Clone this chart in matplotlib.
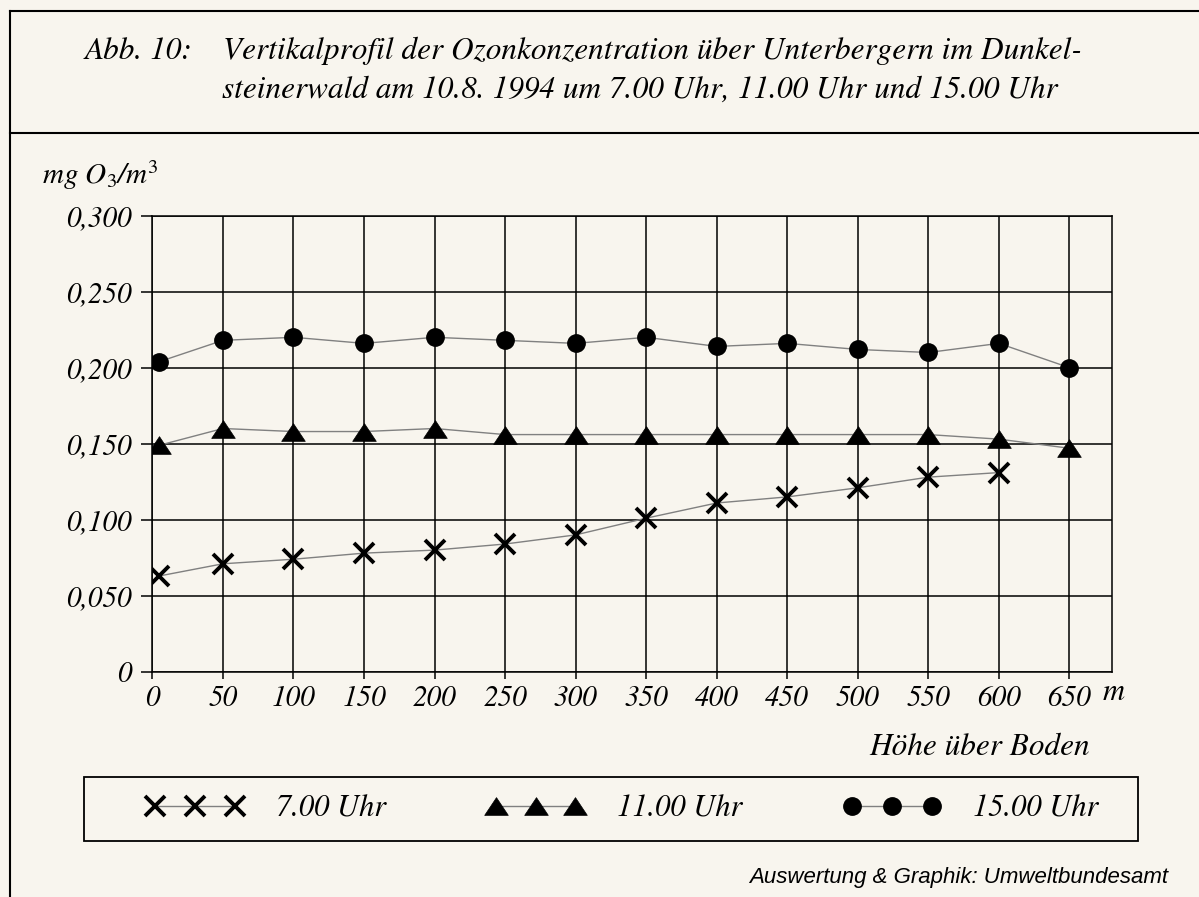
import matplotlib
matplotlib.use("Agg")
import matplotlib.pyplot as plt
from matplotlib.lines import Line2D
from matplotlib.patches import Rectangle

# ---- data ----
heights = [5, 50, 100, 150, 200, 250, 300, 350, 400, 450, 500, 550, 600, 650]
uhr7 = [0.063, 0.071, 0.074, 0.078, 0.080, 0.084, 0.090, 0.101, 0.111, 0.115, 0.121, 0.128, 0.131]
uhr11 = [0.149, 0.160, 0.158, 0.158, 0.160, 0.156, 0.156, 0.156, 0.156, 0.156, 0.156, 0.156, 0.153, 0.147]
uhr15 = [0.204, 0.218, 0.220, 0.216, 0.220, 0.218, 0.216, 0.220, 0.214, 0.216, 0.212, 0.210, 0.216, 0.200]
xticks = [0, 50, 100, 150, 200, 250, 300, 350, 400, 450, 500, 550, 600, 650]
yticks = [0, 0.05, 0.10, 0.15, 0.20, 0.25, 0.30]
ytick_labels = ["0", "0,050", "0,100", "0,150", "0,200", "0,250", "0,300"]
series_labels = ["7.00 Uhr", "11.00 Uhr", "15.00 Uhr"]

plt.rcParams["mathtext.fontset"] = "stix"

PAPER = "#f8f5ee"
SERIF = ["STIXGeneral", "DejaVu Serif"]
SANS = ["Liberation Sans", "DejaVu Sans"]

W, H = 1199, 897
fig = plt.figure(figsize=(W / 100, H / 100), dpi=100, facecolor=PAPER)

def fx(px):
    return px / W

def fy(py):
    return 1 - py / H

ax = fig.add_axes([fx(152.4), fy(671.7), fx(1111.8) - fx(152.4), fy(215.7) - fy(671.7)])
ax.set_facecolor(PAPER)

tri = [(-1, -0.75), (1, -0.75), (0, 0.75), (-1, -0.75)]
line_kw = dict(color="#808080", lw=1.0)
l1, = ax.plot(heights[:len(uhr7)], uhr7, marker="x", ms=14, mew=2.8, mec="black", **line_kw)
l2, = ax.plot(heights, uhr11, marker=tri, ms=17, mfc="black", mec="black", mew=0.5, **line_kw)
l3, = ax.plot(heights, uhr15, marker="o", ms=12.5, mfc="black", mec="black", **line_kw)

ax.set_xlim(0, 680)
ax.set_ylim(0, 0.30)
ax.set_xticks(xticks)
ax.set_yticks(yticks)
ax.set_yticklabels(ytick_labels)
ax.grid(True, color="black", lw=1.1)
ax.set_axisbelow(True)
for s in ax.spines.values():
    s.set_color("black")
    s.set_linewidth(1.1)
ax.tick_params(axis="y", direction="out", length=8, width=1.1, pad=7, labelsize=21)
ax.tick_params(axis="x", direction="out", length=5, width=1.1, pad=5, labelsize=21)
for lab in ax.get_xticklabels() + ax.get_yticklabels():
    lab.set_fontfamily(SERIF)
    lab.set_fontstyle("italic")

# axis texts
fig.text(fx(42), fy(175), "mg O$_\\mathit{3}$/m$^\\mathit{3}$", fontsize=21, fontfamily=SERIF,
         fontstyle="italic", ha="left", va="center")
fig.text(fx(1103), fy(692), "m", fontsize=22, fontfamily=SERIF, fontstyle="italic",
         ha="left", va="center")
fig.text(fx(1090), fy(747), "Höhe über Boden", fontsize=22.5, fontfamily=SERIF, fontstyle="italic",
         ha="right", va="center")

# title
TS = 22.5
fig.text(fx(85), fy(51), "Abb. 10:", fontsize=TS, fontfamily=SERIF, fontstyle="italic",
         ha="left", va="center")
fig.text(fx(223), fy(51), "Vertikalprofil der Ozonkonzentration über Unterbergern im Dunkel-",
         fontsize=TS, fontfamily=SERIF, fontstyle="italic", ha="left", va="center")
fig.text(fx(222), fy(90), "steinerwald am 10.8. 1994 um 7.00 Uhr, 11.00 Uhr und 15.00 Uhr",
         fontsize=TS, fontfamily=SERIF, fontstyle="italic", ha="left", va="center")

# frame lines
fig.add_artist(Line2D([fx(10), 1], [fy(11), fy(11)], color="black", lw=1.5))
fig.add_artist(Line2D([fx(10), 1], [fy(133), fy(133)], color="black", lw=1.5))
fig.add_artist(Line2D([fx(10), fx(10)], [fy(11), 0], color="black", lw=1.5))

# legend box
fig.add_artist(Rectangle((fx(84), fy(841)), fx(1138) - fx(84), fy(777) - fy(841),
                         transform=fig.transFigure, fill=False, edgecolor="black", lw=1.3))
leg = fig.legend([l1, l2, l3], series_labels, loc="center left", ncol=3,
                 bbox_to_anchor=(fx(146), fy(809)),
                 numpoints=3, handlelength=3.2, handletextpad=1.05, columnspacing=3.3,
                 frameon=False, markerscale=1.0,
                 prop=dict(family=SERIF, style="italic", size=22), borderaxespad=0, borderpad=0)

fig.text(fx(1168), fy(877), "Auswertung & Graphik: Umweltbundesamt", fontsize=16,
         fontfamily=SANS, fontstyle="italic", ha="right", va="center")

fig.savefig("out.png", dpi=100, facecolor=PAPER)
